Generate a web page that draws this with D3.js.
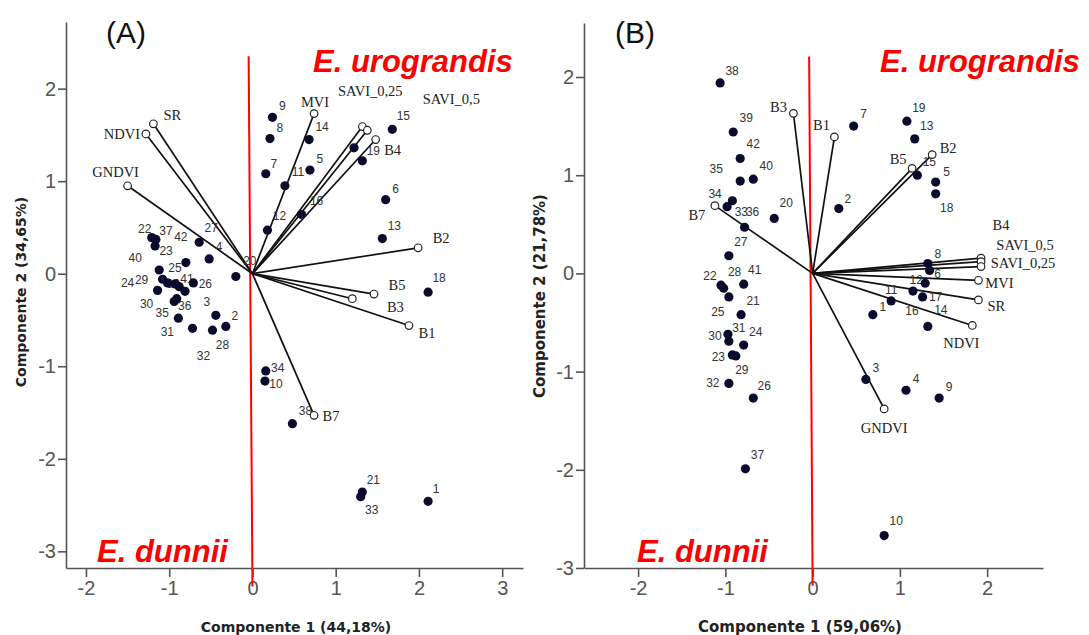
<!DOCTYPE html>
<html>
<head>
<meta charset="utf-8">
<script src="https://cdn.jsdelivr.net/npm/d3@7/dist/d3.min.js"></script>
<style>
  html, body { margin: 0; padding: 0; background: #fff; }
  svg { display: block; }
</style>
</head>
<body>
<svg id="chart" width="1089" height="635"></svg>
<script>
// ---------- Biplot (A): sample scores ----------
const idsA  = [1,2,3,4,5,6,7,8,9,10,11,12,13,14,15,16,17,18,19,20,21,22,23,24,25,26,27,28,29,30,31,32,33,34,35,36,37,38,39,40,41,42];
const pc1A  = [2.11,-0.32,-0.44,-0.52,0.69,1.60,0.16,0.21,0.24,0.15,0.39,0.18,1.56,0.68,1.68,0.59,1.22,2.11,1.32,-0.20,1.32,-1.21,-1.17,-1.02,-0.93,-0.71,-0.64,-0.48,-1.08,-1.14,-0.89,-0.72,1.30,0.16,-0.94,-0.91,-1.16,0.48,-0.88,-1.12,-0.81,-0.80];
const pc2A  = [-2.46,-0.57,-0.45,0.16,1.12,0.80,1.08,1.46,1.69,-1.16,0.95,0.47,0.38,1.45,1.56,0.64,1.36,-0.20,1.22,-0.03,-2.36,0.39,0.30,-0.10,-0.11,-0.10,0.34,-0.61,-0.06,-0.18,-0.48,-0.59,-2.41,-1.05,-0.30,-0.27,0.37,-1.62,-0.14,0.04,-0.19,0.12];
// ---------- Biplot (A): variable loadings ----------
const varsA  = ["SR","NDVI","GNDVI","MVI","SAVI_0,25","SAVI_0,5","B4","B2","B5","B3","B1","B7"];
const load1A = [-1.19,-1.28,-1.50,0.74,1.32,1.38,1.48,1.99,1.46,1.20,1.88,0.74];
const load2A = [1.62,1.51,0.95,1.73,1.59,1.55,1.45,0.28,-0.22,-0.27,-0.56,-1.53];
const xTicksA = [-2,-1,0,1,2,3];
const yTicksA = [-3,-2,-1,0,1,2];

// ---------- Biplot (B): sample scores ----------
const idsB  = [1,2,3,4,5,6,7,8,9,10,11,12,13,14,15,16,17,18,19,20,21,22,23,24,25,26,27,28,29,30,31,32,33,34,35,36,37,38,39,40,41,42];
const pc1B  = [0.69,0.30,0.61,1.07,1.41,1.34,0.47,1.32,1.45,0.82,0.90,1.29,1.17,1.32,1.20,1.15,1.26,1.41,1.08,-0.44,-0.82,-1.05,-0.92,-0.79,-0.96,-0.68,-0.96,-1.02,-0.88,-0.97,-0.96,-0.96,-0.92,-0.98,-0.83,-0.78,-0.77,-1.06,-0.91,-0.68,-0.79,-0.83];
const pc2B  = [-0.42,0.66,-1.08,-1.19,0.93,0.03,1.50,0.10,-1.27,-2.67,-0.28,-0.10,1.37,-0.54,1.00,-0.18,-0.24,0.81,1.55,0.56,-0.42,-0.12,-0.83,-0.73,-0.24,-1.27,0.18,-0.15,-0.84,-0.62,-0.69,-1.12,0.74,0.68,0.94,0.47,-1.99,1.94,1.44,0.96,-0.11,1.17];
// ---------- Biplot (B): variable loadings ----------
const varsB  = ["B3","B1","B5","B2","B4","SAVI_0,5","SAVI_0,25","MVI","SR","NDVI","B7","GNDVI"];
const load1B = [-0.22,0.25,1.14,1.37,1.93,1.93,1.93,1.90,1.90,1.83,-1.12,0.82];
const load2B = [1.63,1.39,1.07,1.21,0.155,0.12,0.07,-0.07,-0.27,-0.53,0.69,-1.38];
const xTicksB = [-2,-1,0,1,2];
const yTicksB = [-3,-2,-1,0,1,2];

// ---------- label placement (pixel nudges from each marker) ----------
const nudgePtsA = {1:[8,-12],2:[9,-10],3:[-9,-13],4:[10,-12],5:[10,-11],6:[10,-11],7:[8,-10],8:[10,-11],9:[10,-11],10:[11,3],
  11:[13,-14],12:[12,-14],13:[12,-13],14:[13,-13],15:[11,-13],16:[15,-13],17:null,18:[11,-14],19:[11,-10],20:[14,-15],
  21:[11,-12],22:[-7,-9],23:[11,5],24:[-40,0],25:[0,-16],26:[12,1],27:[12,-14],28:[10,15],29:[-21,1],30:[-11,14],
  31:[-11,14],32:[11,28],33:[11,13],34:[12,-3],35:[-12,12],36:[8,7],37:[10,-8],38:[13,-13],39:[-6,-3],40:[-24,-12],
  41:[2,-12],42:[-5,-26]};
const nudgeVarsA = {"SR":[19,-9],"NDVI":[-24,0],"GNDVI":[-12,-14],"MVI":[1,-12],"SAVI_0,25":[8,-36],"SAVI_0,5":[84,-31],
  "B4":[17,10],"B2":[23,-10],"B5":[23,-9],"B3":[43,8],"B1":[18,7],"B7":[17,1]};
const nudgePtsB = {1:[10,-8],2:[9,-10],3:[10,-11],4:[10,-11],5:[11,-10],6:[8,4],7:[10,-12],8:[10,-10],9:[10,-11],10:[12,-15],
  11:[0,-11],12:[-9,-3],13:[12,-13],14:[13,-16],15:[12,-13],16:[-1,20],17:[13,0],18:[11,14],19:[12,-13],20:[12,-15],
  21:[12,-14],22:[-11,-9],23:[-14,2],24:[12,-13],25:[-11,15],26:[11,-12],27:[12,-14],28:[11,-16],29:[6,14],30:[-13,2],
  31:[10,-13],32:[-16,0],33:[9,11],34:[-12,-13],35:[-24,-12],36:[8,-15],37:[12,-14],38:[12,-12],39:[13,-14],40:[13,-13],
  41:[11,-14],42:[13,-15]};
const nudgeVarsB = {"B3":[-15,-6],"B1":[-13,-12],"B5":[-14,-9],"B2":[16,-7],"B4":[20,-33],"SAVI_0,5":[44,-17],
  "SAVI_0,25":[42,-4],"MVI":[21,3],"SR":[18,6],"NDVI":[-11,18],"B7":[-18,9],"GNDVI":[0,19]};

const SANS = "'Liberation Sans', Arial, sans-serif";
const SERIF = "'Liberation Serif', 'Times New Roman', serif";
const svg = d3.select("#chart");

function drawPanel(p) {
  const g = svg.append("g");
  const x = d3.scaleLinear().domain(p.xDom).range(p.xRange);
  const y = d3.scaleLinear().domain(p.yDom).range(p.yRange);

  // axes (left and bottom only)
  const ax = g.append("g").attr("transform", `translate(0,${p.yRange[0]})`)
    .call(d3.axisBottom(x).tickValues(p.xTicks).tickSize(9).tickSizeOuter(0).tickPadding(4).tickFormat(d => String(d)));
  const ay = g.append("g").attr("transform", `translate(${p.xRange[0]},0)`)
    .call(d3.axisLeft(y).tickValues(p.yTicks).tickSize(8).tickSizeOuter(0).tickPadding(2).tickFormat(d => String(d)));
  [ax, ay].forEach(a => {
    a.select(".domain").attr("stroke", "#555").attr("stroke-width", 1.6);
    a.selectAll(".tick line").attr("stroke", "#555").attr("stroke-width", 1.6);
    a.selectAll(".tick text").attr("fill", "#555").style("font-family", SANS).style("font-size", "20px");
  });

  // axis titles
  g.append("text").attr("x", p.xTitlePos[0]).attr("y", p.xTitlePos[1])
    .attr("text-anchor", "middle").attr("fill", "#222")
    .style("font-family", "'DejaVu Sans', Verdana, sans-serif").style("font-weight", "bold").style("font-size", p.titleSize + "px")
    .text(p.xTitle);
  g.append("text").attr("transform", `translate(${p.yTitlePos[0]},${p.yTitlePos[1]}) rotate(-90)`)
    .attr("text-anchor", "middle").attr("fill", "#222")
    .style("font-family", "'DejaVu Sans', Verdana, sans-serif").style("font-weight", "bold").style("font-size", p.titleSize + "px")
    .text(p.yTitle);

  // red divider line between the two species groups
  g.append("line")
    .attr("x1", x(p.divider[0][0])).attr("y1", y(p.divider[0][1]))
    .attr("x2", x(p.divider[1][0])).attr("y2", y(p.divider[1][1]))
    .attr("stroke", "#ff0000").attr("stroke-width", 2);

  // variable vectors
  const vars = p.vars.map((n, i) => ({ name: n, a: p.load1[i], b: p.load2[i] }));
  g.append("g").selectAll("line").data(vars).join("line")
    .attr("x1", x(0)).attr("y1", y(0))
    .attr("x2", d => x(d.a)).attr("y2", d => y(d.b))
    .attr("stroke", "#111").attr("stroke-width", 1.7);

  // sample points
  const pts = p.ids.map((id, i) => ({ id, a: p.pc1[i], b: p.pc2[i] }));
  g.append("g").selectAll("text").data(pts.filter(d => p.nudgePts[d.id])).join("text")
    .attr("x", d => x(d.a) + p.nudgePts[d.id][0])
    .attr("y", d => y(d.b) + p.nudgePts[d.id][1])
    .attr("text-anchor", "middle").attr("dominant-baseline", "central")
    .attr("fill", "#333").style("font-family", SANS).style("font-size", "12px")
    .text(d => d.id);
  g.append("g").selectAll("circle").data(pts).join("circle")
    .attr("cx", d => x(d.a)).attr("cy", d => y(d.b)).attr("r", 4.6)
    .attr("fill", "#0b0b2e");

  // vector end markers and names
  g.append("g").selectAll("circle").data(vars).join("circle")
    .attr("cx", d => x(d.a)).attr("cy", d => y(d.b)).attr("r", 3.8)
    .attr("fill", "#fff").attr("stroke", "#222").attr("stroke-width", 1.2);
  g.append("g").selectAll("text").data(vars).join("text")
    .attr("x", d => x(d.a) + p.nudgeVars[d.name][0])
    .attr("y", d => y(d.b) + p.nudgeVars[d.name][1])
    .attr("text-anchor", "middle").attr("dominant-baseline", "central")
    .attr("fill", "#222").style("font-family", SERIF).style("font-size", "14.5px")
    .text(d => d.name);

  // panel letter and group annotations
  g.append("text").attr("x", p.letterPos[0]).attr("y", p.letterPos[1])
    .attr("fill", "#111").style("font-family", SANS).style("font-size", "30px").text(p.letter);
  const red = (t, pos) => g.append("text").attr("x", pos[0]).attr("y", pos[1])
    .attr("fill", "#ff0000").style("font-family", SANS).style("font-weight", "bold")
    .style("font-style", "italic").style("font-size", "31px").text(t);
  red("E. urograndis", p.uroPos);
  red("E. dunnii", p.dunPos);
}

drawPanel({
  ids: idsA, pc1: pc1A, pc2: pc2A, vars: varsA, load1: load1A, load2: load2A,
  xTicks: xTicksA, yTicks: yTicksA,
  xDom: [-2.24, 3.25], xRange: [66, 523], yDom: [-3.18, 2.72], yRange: [568, 22],
  nudgePts: nudgePtsA, nudgeVars: nudgeVarsA,
  divider: [[-0.046, 2.35], [0, -3.38]],
  xTitle: "Componente 1 (44,18%)", yTitle: "Componente 2 (34,65%)",
  xTitlePos: [296, 632], yTitlePos: [26, 292], titleSize: 14,
  letter: "(A)", letterPos: [106, 43], uroPos: [313, 72], dunPos: [97, 562]
});

drawPanel({
  ids: idsB, pc1: pc1B, pc2: pc2B, vars: varsB, load1: load1B, load2: load2B,
  xTicks: xTicksB, yTicks: yTicksB,
  xDom: [-2.62, 2.64], xRange: [584, 1043], yDom: [-3, 2.55], yRange: [568, 23],
  nudgePts: nudgePtsB, nudgeVars: nudgeVarsB,
  divider: [[-0.04, 2.21], [0, -3.18]],
  xTitle: "Componente 1 (59,06%)", yTitle: "Componente 2 (21,78%)",
  xTitlePos: [800, 632], yTitlePos: [545, 296], titleSize: 15,
  letter: "(B)", letterPos: [615, 43], uroPos: [880, 72], dunPos: [637, 562]
});
</script>
</body>
</html>
